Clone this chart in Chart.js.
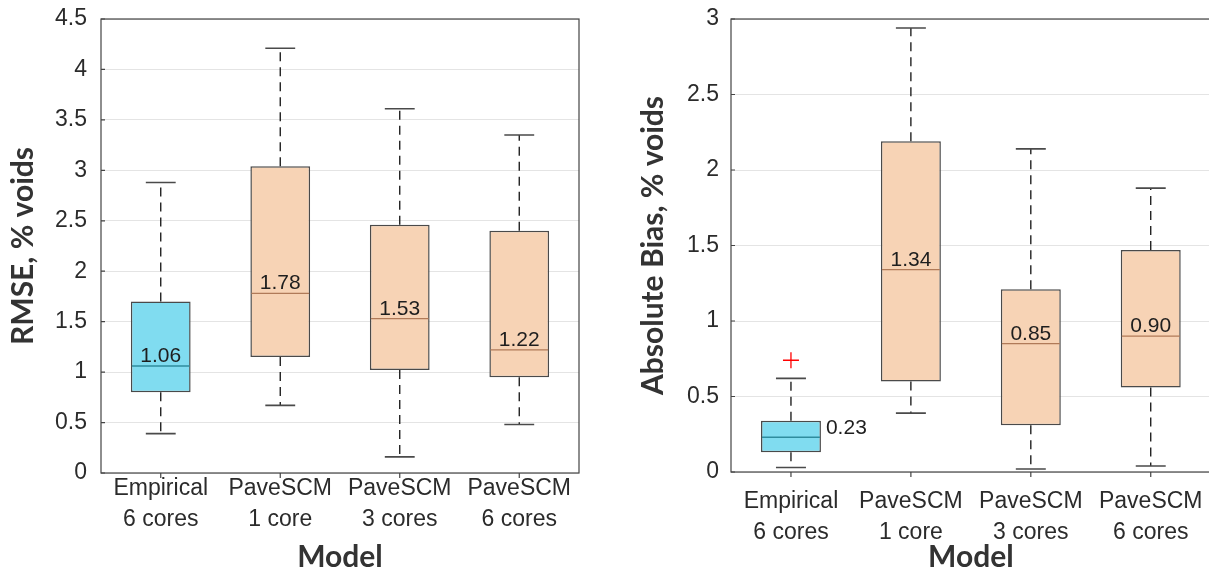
<!DOCTYPE html>
<html lang="en">
<head>
  <meta charset="UTF-8" />
  <title>RMSE and Absolute Bias by Model</title>
  <script src="https://cdn.jsdelivr.net/npm/chart.js"></script>
  <style>
    html, body {
      margin: 0;
      padding: 0;
      background: #fff;
      overflow: hidden;
      width: 1209px;
      height: 569px;
    }
    canvas {
      position: absolute;
      top: 0;
    }
    #rmse { left: 0; }
    #bias { left: 610px; }
  </style>
</head>
<body>
  <canvas id="rmse" width="600" height="569"></canvas>
  <canvas id="bias" width="610" height="569"></canvas>

  <script>
    // categories shared by both panels
    const models = [['Empirical', '6 cores'], ['PaveSCM', '1 core'], ['PaveSCM', '3 cores'], ['PaveSCM', '6 cores']];

    // left panel: RMSE, % voids
    const rmseLow = [0.39, 0.67, 0.16, 0.48];
    const rmseQ1 = [0.80, 1.15, 1.02, 0.95];
    const rmseMed = [1.06, 1.78, 1.53, 1.22];
    const rmseQ3 = [1.70, 3.04, 2.46, 2.40];
    const rmseHigh = [2.88, 4.21, 3.61, 3.35];
    const rmseOutliers = [];
    const rmseTicks = [0, 0.5, 1, 1.5, 2, 2.5, 3, 3.5, 4, 4.5];

    // right panel: Absolute Bias, % voids
    const biasLow = [0.03, 0.39, 0.02, 0.04];
    const biasQ1 = [0.13, 0.60, 0.31, 0.56];
    const biasMed = [0.23, 1.34, 0.85, 0.90];
    const biasQ3 = [0.34, 2.19, 1.21, 1.47];
    const biasHigh = [0.62, 2.94, 2.14, 1.88];
    const biasOutliers = [{ x: 1, y: 0.74 }];
    const biasTicks = [0, 0.5, 1, 1.5, 2, 2.5, 3];

    const CYAN = '#80dcf0', ORANGE = '#f7d3b5';
    const TEXT = '#2b2b2b';

    const boxExtras = {
      id: 'boxExtras',
      afterDatasetsDraw(chart, args, opts) {
        const { ctx, chartArea: a } = chart;
        const xs = chart.scales.x, ys = chart.scales.y;
        const half = xs.getPixelForValue(1.25) - xs.getPixelForValue(1);
        const cap = xs.getPixelForValue(1.125) - xs.getPixelForValue(1);
        ctx.save();
        opts.med.forEach((m, i) => {
          const x = xs.getPixelForValue(i + 1);
          const yLo = ys.getPixelForValue(opts.low[i]);
          const yQ1 = ys.getPixelForValue(opts.q1[i]);
          const yQ3 = ys.getPixelForValue(opts.q3[i]);
          const yHi = ys.getPixelForValue(opts.high[i]);
          const yM = ys.getPixelForValue(m);

          // dashed whiskers
          ctx.strokeStyle = '#111';
          ctx.lineWidth = 1.3;
          ctx.setLineDash([9, 6]);
          ctx.beginPath();
          ctx.moveTo(x, yQ3); ctx.lineTo(x, yHi);
          ctx.moveTo(x, yQ1); ctx.lineTo(x, yLo);
          ctx.stroke();

          // caps
          ctx.setLineDash([]);
          ctx.strokeStyle = '#4a4a4a';
          ctx.lineWidth = 1.6;
          ctx.beginPath();
          ctx.moveTo(x - cap, yHi); ctx.lineTo(x + cap, yHi);
          ctx.moveTo(x - cap, yLo); ctx.lineTo(x + cap, yLo);
          ctx.stroke();

          // median
          ctx.strokeStyle = i === 0 ? '#2f8c9e' : '#b07a58';
          ctx.lineWidth = 1.4;
          ctx.beginPath();
          ctx.moveTo(x - half + 1, yM); ctx.lineTo(x + half - 1, yM);
          ctx.stroke();

          // median label: above the line, or beside a short box
          ctx.fillStyle = '#1e1e1e';
          ctx.font = '21px "Liberation Sans", Arial, sans-serif';
          const txt = m.toFixed(2);
          if (yQ1 - yQ3 < 40) {
            ctx.textAlign = 'left';
            ctx.textBaseline = 'middle';
            ctx.fillText(txt, x + half + 5, yM - 9);
          } else {
            ctx.textAlign = 'center';
            ctx.textBaseline = 'alphabetic';
            ctx.fillText(txt, x, yM - 4);
          }
        });

        // frame + category ticks
        ctx.strokeStyle = '#444';
        ctx.lineWidth = 1.2;
        ctx.strokeRect(a.left, a.top, a.right - a.left, a.bottom - a.top);
        ctx.beginPath();
        xs.ticks.forEach(t => {
          const x = xs.getPixelForValue(t.value);
          ctx.moveTo(x, a.bottom); ctx.lineTo(x, a.bottom + 5);
        });
        ys.ticks.forEach(t => {
          const y = ys.getPixelForValue(t.value);
          ctx.moveTo(a.left, y); ctx.lineTo(a.left + 4, y);
        });
        ctx.stroke();
        ctx.restore();
      }
    };

    function makeBoxChart(id, s) {
      const boxes = models.map((m, i) => ({ x: i + 1, y: [s.q1[i], s.q3[i]] }));
      return new Chart(document.getElementById(id), {
        type: 'bar',
        data: {
          datasets: [{
            data: boxes,
            backgroundColor: models.map((m, i) => i === 0 ? CYAN : ORANGE),
            borderColor: '#4a4a4a',
            borderWidth: 1.5,
            borderSkipped: false,
            categoryPercentage: 1,
            barPercentage: 0.5
          }, {
            type: 'scatter',
            data: s.outliers,
            pointStyle: 'cross',
            radius: 8,
            borderColor: '#ff0000',
            borderWidth: 1.3
          }]
        },
        options: {
          responsive: false,
          animation: false,
          layout: { padding: { top: 19, right: s.padRight, left: 0, bottom: 0 } },
          plugins: {
            legend: { display: false },
            tooltip: { enabled: false },
            boxExtras: s
          },
          scales: {
            x: {
              type: 'linear',
              offset: false,
              min: 0.5,
              max: 4.5,
              afterBuildTicks: sc => { sc.ticks = models.map((m, i) => ({ value: i + 1 })); },
              afterFit: sc => { sc.height = s.xHeight; },
              grid: { display: false, drawTicks: false },
              border: { display: false },
              ticks: {
                callback: v => models[v - 1],
                color: TEXT,
                padding: s.xPad,
                maxRotation: 0,
                autoSkip: false,
                font: { family: '"Liberation Sans", Arial, sans-serif', size: 23, lineHeight: 1.35 }
              },
              title: {
                display: true,
                text: 'Model',
                color: '#333',
                padding: { top: 0, bottom: -3 },
                font: { family: 'Lato, sans-serif', size: 30, weight: 'bold', lineHeight: 1 }
              }
            },
            y: {
              min: 0,
              max: s.ticks[s.ticks.length - 1],
              afterBuildTicks: sc => { sc.ticks = s.ticks.map(v => ({ value: v })); },
              afterFit: sc => { sc.width = s.yWidth; },
              grid: { color: '#e4e4e4', lineWidth: 1, drawTicks: false },
              border: { display: false },
              ticks: {
                callback: v => String(v),
                color: TEXT,
                padding: s.yPad,
                font: { family: '"Liberation Sans", Arial, sans-serif', size: 23, lineHeight: 0.4 }
              },
              title: {
                display: true,
                text: s.title,
                color: '#333',
                padding: { top: s.titlePad, bottom: 0 },
                font: { family: 'Lato, sans-serif', size: 30, weight: 'bold', lineHeight: 1 }
              }
            }
          }
        },
        plugins: [boxExtras]
      });
    }

    makeBoxChart('rmse', {
      title: 'RMSE, % voids',
      low: rmseLow, q1: rmseQ1, med: rmseMed, q3: rmseQ3, high: rmseHigh,
      outliers: rmseOutliers, ticks: rmseTicks,
      padRight: 21, yWidth: 101, yPad: 14, titlePad: 8, xHeight: 96, xPad: 0
    });

    makeBoxChart('bias', {
      title: 'Absolute Bias, % voids',
      low: biasLow, q1: biasQ1, med: biasMed, q3: biasQ3, high: biasHigh,
      outliers: biasOutliers, ticks: biasTicks,
      padRight: 0, yWidth: 121, yPad: 12, titlePad: 28, xHeight: 97, xPad: 14
    });
  </script>
</body>
</html>
